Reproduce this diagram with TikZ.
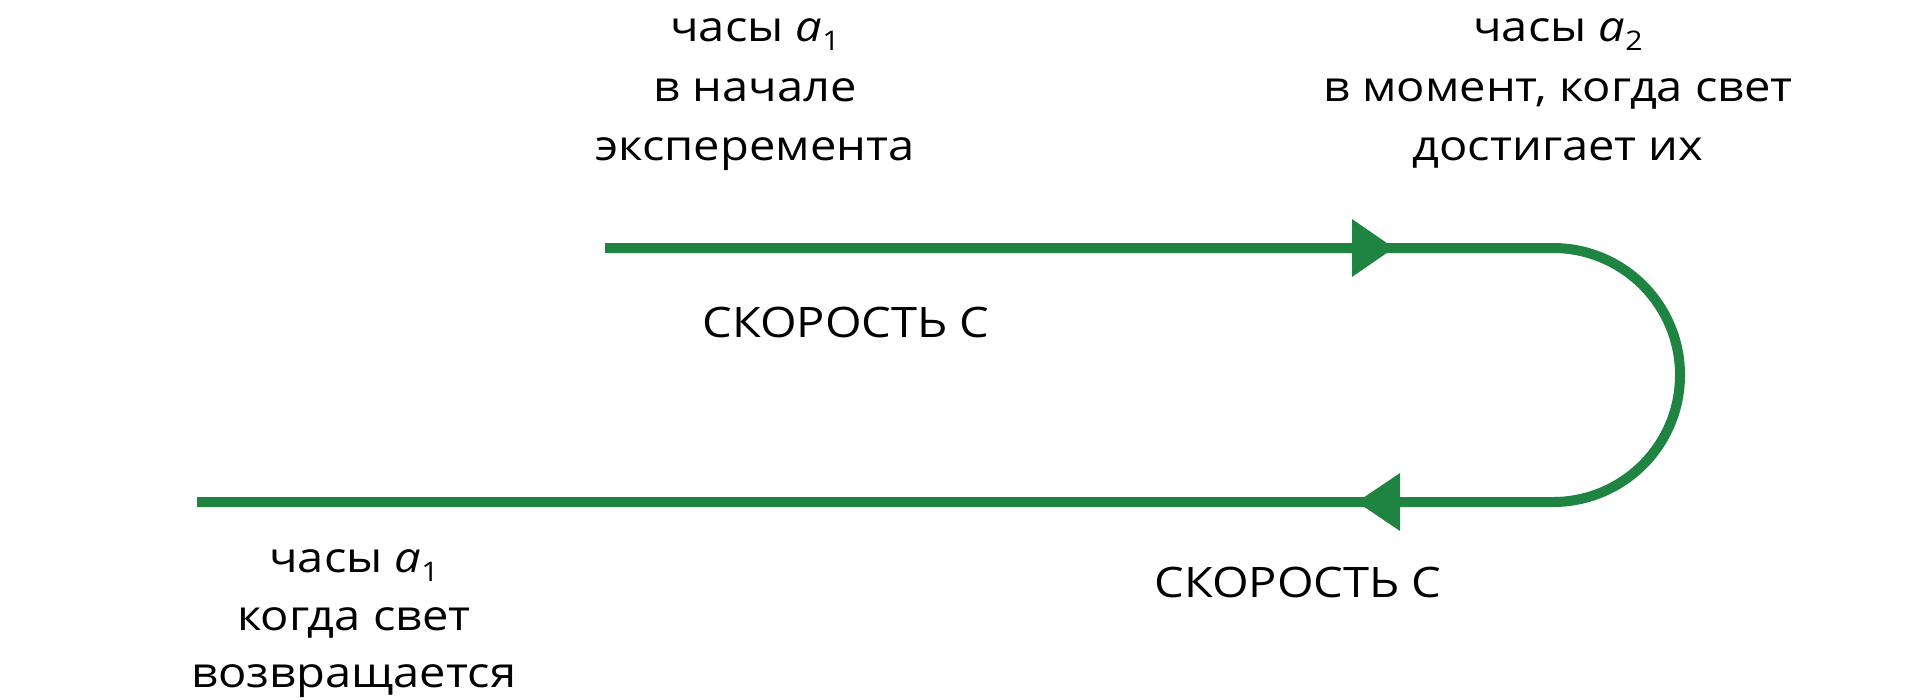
\documentclass[tikz,border=0pt]{standalone}
\usepackage{fontspec}
\setmainfont[FakeStretch=1.12]{Open Sans}
\definecolor{raygreen}{RGB}{31,132,66}
\newcommand{\clk}[1]{\textit{a}\raisebox{-0.22em}{\fontsize{27}{27}\selectfont #1}}
\begin{document}
\begin{tikzpicture}[x=1pt,y=-1pt,
  lbl/.style={font=\fontsize{42}{50}\selectfont, inner sep=0pt, anchor=base},
  ray/.style={draw=raygreen, line width=10pt},
  tipfill/.style={fill=raygreen}]
\useasboundingbox (0,0) rectangle (1920,699);
% path
\coordinate (s) at (605,248);
\coordinate (tr) at (1553,248);
\coordinate (e) at (197,502);
\draw[ray] (s) -- (tr) arc[start angle=-90, end angle=90, radius=127] -- (e);
% arrow heads
\coordinate (a1) at (1394,248);
\coordinate (a2) at (1357,502);
\fill[tipfill] ([shift={(-42,-29)}]a1) -- (a1) -- ([shift={(-42,29)}]a1) -- cycle;
\fill[tipfill] ([shift={(43,-29)}]a2) -- (a2) -- ([shift={(43,29)}]a2) -- cycle;
% top-left
\node[lbl] (tl1) at (755,41) {часы \clk{1}};
\node[lbl] (tl2) at (755,101) {в начале};
\node[lbl] (tl3) at (755,160) {эксперемента};
% top-right
\node[lbl] (tr1) at (1558,41) {часы \clk{2}};
\node[lbl] (tr2) at (1558,101) {в момент, когда свет};
\node[lbl] (tr3) at (1558,160) {достигает их};
% speeds
\node[lbl] (v1) at (846,337) {СКОРОСТЬ C};
\node[lbl] (v2) at (1298,597) {СКОРОСТЬ C};
% bottom-left
\node[lbl] (bl1) at (354,572) {часы \clk{1}};
\node[lbl] (bl2) at (354,630) {когда свет};
\node[lbl] (bl3) at (354,687) {возвращается};
\end{tikzpicture}
\end{document}
